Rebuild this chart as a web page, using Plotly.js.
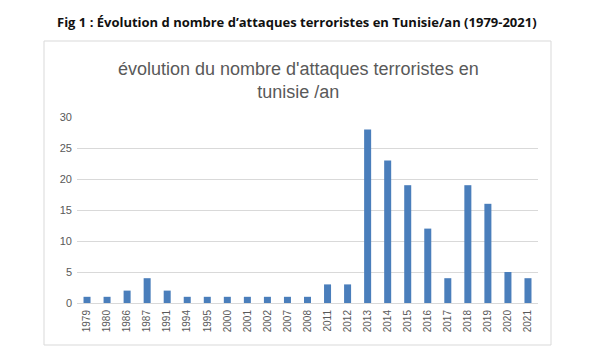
<!DOCTYPE html>
<html>
<head>
<meta charset="utf-8">
<script src="https://cdn.plot.ly/plotly-3.0.1.min.js"></script>
<style>html,body{margin:0;padding:0;background:#fff;}#chart{width:595px;height:360px;}</style>
</head>
<body>
<div id="chart"></div>
<script>
const years = ["1979","1980","1986","1987","1991","1994","1995","2000","2001","2002","2007","2008","2011","2012","2013","2014","2015","2016","2017","2018","2019","2020","2021"];
const attacks = [1,1,2,4,2,1,1,1,1,1,1,1,3,3,28,23,19,12,4,19,16,5,4];
const yTicks = [0,5,10,15,20,25,30];
const outerTitle = "Fig 1 : Évolution d nombre d’attaques terroristes en Tunisie/an (1979-2021)";
const innerTitle = "évolution du nombre d'attaques terroristes en<br>tunisie /an";

const L = 77, R = 538, T = 117, B = 303;
const W = R - L, H = B - T;
const px = x => (x - L) / W;
const py = y => (B - y) / H;

const data = [{
  type: 'bar',
  x: years,
  y: attacks,
  marker: {color: '#4a7ebb'},
  hoverinfo: 'x+y'
}];

const layout = {
  width: 595, height: 360,
  margin: {l: L, r: 595 - R, t: T, b: 360 - B},
  paper_bgcolor: '#fff', plot_bgcolor: '#fff',
  showlegend: false,
  bargap: 0.65,
  font: {family: 'Liberation Sans, Arial, sans-serif', color: '#595959'},
  xaxis: {
    type: 'category',
    tickangle: -90,
    tickfont: {size: 10, color: '#595959'},
    showgrid: false,
    showline: true, linecolor: '#d9d9d9', linewidth: 1,
    ticks: '', ticklabelstandoff: 2
  },
  yaxis: {
    range: [0, 30],
    tickvals: yTicks,
    tickfont: {size: 11, color: '#595959'},
    showgrid: true, gridcolor: '#d9d9d9', gridwidth: 1,
    zeroline: false, showline: false, ticks: '',
    ticklabelstandoff: 4
  },
  shapes: [{
    type: 'rect', xref: 'paper', yref: 'paper',
    x0: px(44), x1: px(551), y0: py(345), y1: py(41),
    line: {color: '#d9d9d9', width: 1}, fillcolor: 'rgba(0,0,0,0)', layer: 'below'
  }],
  annotations: [{
    text: '<b>' + outerTitle + '</b>',
    xref: 'paper', yref: 'paper', x: px(297), y: py(22),
    xanchor: 'center', yanchor: 'middle', showarrow: false,
    font: {family: 'Open Sans, Noto Sans, sans-serif', size: 13, color: '#111'}
  }, {
    text: innerTitle,
    xref: 'paper', yref: 'paper', x: px(298), y: py(80),
    xanchor: 'center', yanchor: 'middle', showarrow: false,
    font: {family: 'Liberation Sans, Arial, sans-serif', size: 18, color: '#595959'}
  }]
};

Plotly.newPlot('chart', data, layout, {displayModeBar: false, staticPlot: true});
</script>
</body>
</html>
